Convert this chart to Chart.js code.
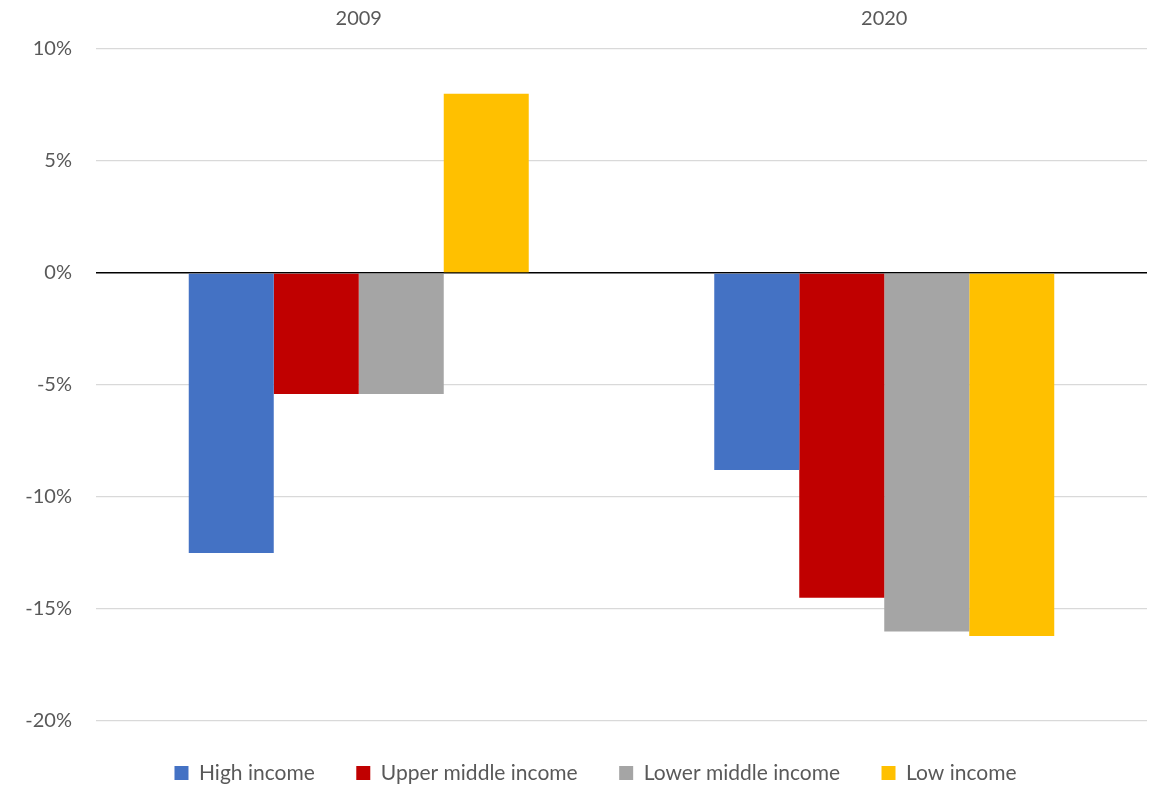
<!DOCTYPE html>
<html>
<head>
<meta charset="utf-8">
<script src="https://cdn.jsdelivr.net/npm/chart.js@4.4.0/dist/chart.umd.min.js"></script>
<style>
  html, body { margin: 0; padding: 0; background: #ffffff; }
  #wrap { width: 1158px; height: 786px; position: relative; }
</style>
</head>
<body>
<div id="wrap"><canvas id="chart"></canvas></div>
<script>
// Change by income group, in percent
const years = ['2009', '2020'];
const highIncome = [-12.5, -8.8];
const upperMiddleIncome = [-5.4, -14.5];
const lowerMiddleIncome = [-5.4, -16.0];
const lowIncome = [8.0, -16.2];
const yTicks = [10, 5, 0, -5, -10, -15, -20];

const seriesNames = ['High income', 'Upper middle income', 'Lower middle income', 'Low income'];
const seriesColors = ['#4472C4', '#C00000', '#A5A5A5', '#FFC000'];
const seriesValues = [highIncome, upperMiddleIncome, lowerMiddleIncome, lowIncome];

const FONT = "Lato, 'Liberation Sans', sans-serif";
const TEXT = '#595959';

// Center the legend row under the span from the tick labels to the right edge
const legendOffset = {
  id: 'legendOffset',
  afterLayout(chart) {
    if (chart.legend) chart.legend.left += 44;
  }
};

new Chart(document.getElementById('chart'), {
  type: 'bar',
  data: {
    labels: years,
    datasets: seriesNames.map((name, i) => ({
      label: name,
      data: seriesValues[i],
      backgroundColor: seriesColors[i],
      borderWidth: 0,
      categoryPercentage: 0.647,
      barPercentage: 1.0
    }))
  },
  plugins: [legendOffset],
  options: {
    responsive: true,
    maintainAspectRatio: false,
    animation: false,
    layout: { padding: { left: 0, right: 11, top: 0, bottom: -7.5 } },
    plugins: {
      tooltip: { enabled: false },
      legend: {
        position: 'bottom',
        labels: {
          color: TEXT,
          font: { family: FONT, size: 21 },
          boxWidth: 14,
          boxHeight: 14,
          padding: 41.5
        }
      }
    },
    scales: {
      x: {
        position: 'top',
        grid: { display: false, drawTicks: false },
        border: { display: false },
        ticks: { color: TEXT, font: { family: FONT, size: 20 }, padding: 18 },
        afterFit: (axis) => { axis.height = 49; }
      },
      y: {
        min: -20,
        max: 10,
        afterBuildTicks: (axis) => { axis.ticks = yTicks.map(v => ({ value: v })); },
        grid: {
          drawTicks: false,
          color: (c) => (c.tick && c.tick.value === 0 ? '#000000' : '#D9D9D9'),
          lineWidth: (c) => (c.tick && c.tick.value === 0 ? 1.5 : 1.3)
        },
        border: { display: false },
        ticks: {
          color: TEXT,
          font: { family: FONT, size: 20 },
          padding: 24,
          callback: (v) => v + '%'
        },
        afterFit: (axis) => { axis.width = 96; }
      }
    }
  }
});
</script>
</body>
</html>
